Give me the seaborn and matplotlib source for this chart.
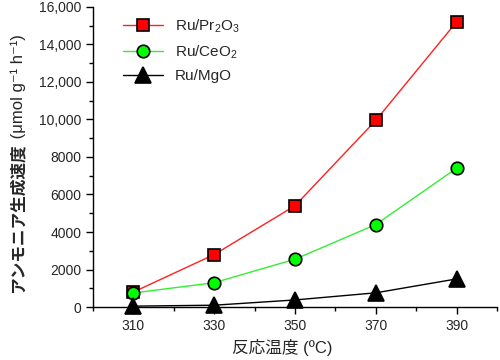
import matplotlib
matplotlib.use("Agg")
import matplotlib.pyplot as plt
import seaborn as sns
import pandas as pd
from matplotlib.ticker import MultipleLocator, FixedLocator

temps = [310, 330, 350, 370, 390]
pr2o3 = [800, 2800, 5400, 9950, 15200]
ceo2 = [750, 1300, 2550, 4400, 7400]
mgo = [50, 100, 380, 760, 1500]
series_names = ["Ru/Pr$_2$O$_3$", "Ru/CeO$_2$", "Ru/MgO"]
yticks = [0, 2000, 4000, 6000, 8000, 10000, 12000, 14000, 16000]
ytick_labels = ["0", "2000", "4000", "6000", "8000", "10,000", "12,000", "14,000", "16,000"]
xticks = [310, 330, 350, 370, 390]
ylabel_jp = "アンモニア生成速度"
ylabel_unit = " (μmol g⁻¹ h⁻¹)"
xlabel = "反応温度 (ºC)"

sns.set_style("ticks")
plt.rcParams['font.family'] = ['Liberation Sans', 'Noto Sans CJK JP', 'DejaVu Sans']
plt.rcParams['mathtext.fontset'] = 'custom'
plt.rcParams['mathtext.rm'] = 'Liberation Sans'
plt.rcParams['mathtext.it'] = 'Liberation Sans'

df = pd.DataFrame({"temp": temps * 3,
                   "rate": pr2o3 + ceo2 + mgo,
                   "cat": [series_names[0]] * 5 + [series_names[1]] * 5 + [series_names[2]] * 5})

fig = plt.figure(figsize=(5, 3.6), dpi=100)
ax = fig.add_axes([0.186, 0.147, 0.808, 0.834])

styles = [("#ff2020", "s", "#ff0000", 8), ("#33ee33", "o", "#00ff00", 9), ("black", "^", "black", 11)]
for name, (lc, mk, fc, ms) in zip(series_names, styles):
    sub = df[df["cat"] == name]
    sns.lineplot(data=sub, x="temp", y="rate", ax=ax, color=lc, marker=mk,
                 markerfacecolor=fc, markeredgecolor="black", markeredgewidth=1.2,
                 markersize=ms, linewidth=1.0, label=name, clip_on=False, zorder=3)

ax.set_xlim(300, 400)
ax.set_ylim(0, 16000)
ax.xaxis.set_major_locator(FixedLocator(xticks))
ax.xaxis.set_minor_locator(FixedLocator([300, 320, 340, 360, 380, 400]))
ax.yaxis.set_major_locator(FixedLocator(yticks))
ax.set_yticklabels(ytick_labels)
ax.yaxis.set_minor_locator(MultipleLocator(1000))
ax.tick_params(which="major", length=5, width=1, labelsize=10, direction="out", color="black")
ax.tick_params(which="minor", length=3, width=1, direction="out", color="black")
for s in ["top", "right"]:
    ax.spines[s].set_visible(False)
for s in ["left", "bottom"]:
    ax.spines[s].set_color("black")
    ax.spines[s].set_linewidth(1)

ax.set_xlabel(xlabel, fontsize=12, labelpad=5)
ax.xaxis.set_label_coords(0.468, -0.105)
ax.set_ylabel("")

leg = ax.legend(loc="upper left", bbox_to_anchor=(0.04, 1.01), frameon=False, fontsize=11,
                handlelength=2.6, labelspacing=0.55)

# y label: bold Japanese part followed by regular unit part
t1 = fig.text(0.036, 1 - 293 / 360, ylabel_jp, rotation=90, rotation_mode="anchor",
              ha="left", va="center", fontsize=12, fontweight="bold")
fig.canvas.draw()
bb = t1.get_window_extent(renderer=fig.canvas.get_renderer())
top = bb.y1 / fig.bbox.height
fig.text(0.036, top, ylabel_unit, rotation=90, rotation_mode="anchor",
         ha="left", va="center", fontsize=12)

fig.savefig("out.png", dpi=100)
